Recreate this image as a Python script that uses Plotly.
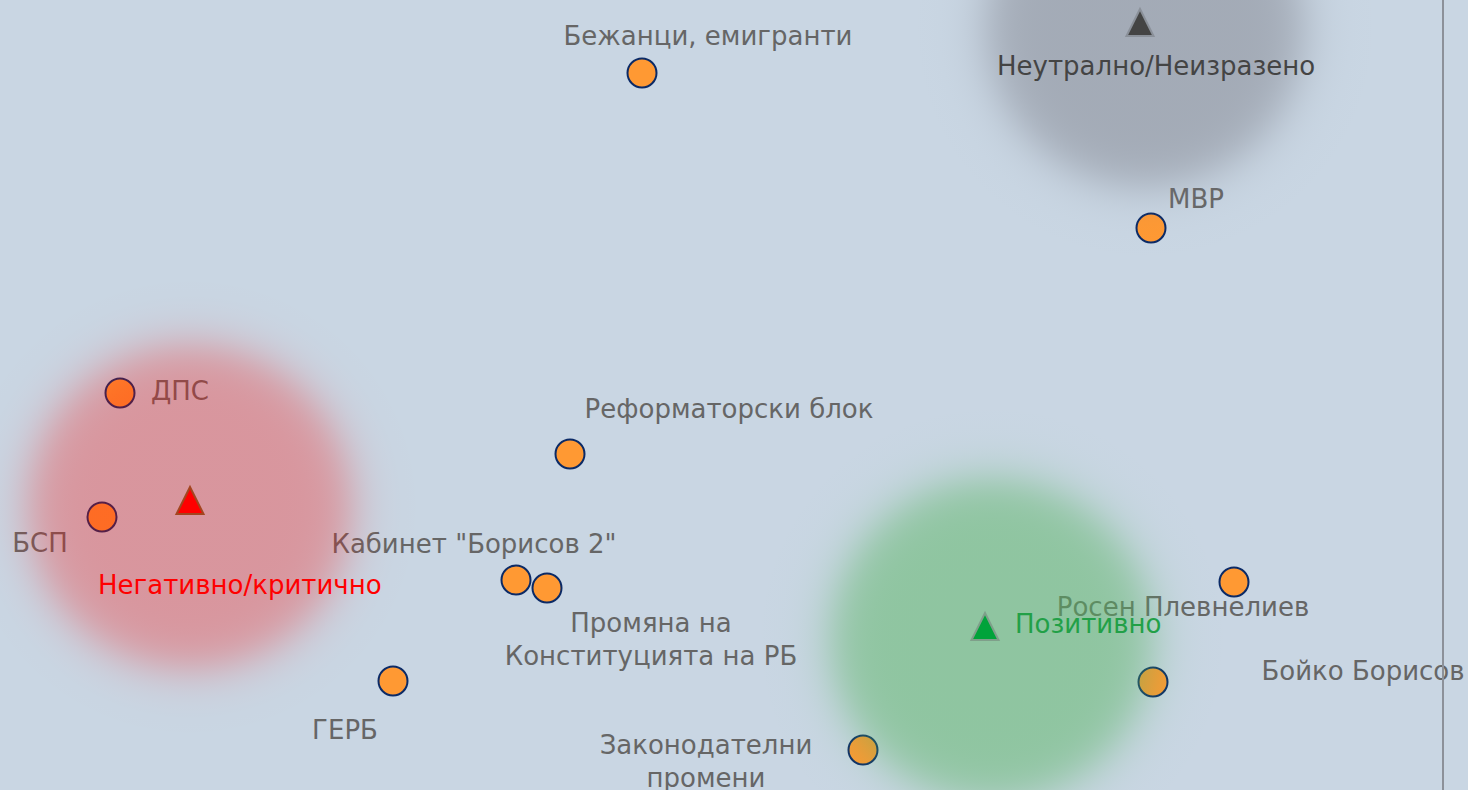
import base64
import numpy as np
import plotly.graph_objects as go

# ---------------- data ----------------
topics = ["Бежанци, емигранти", "МВР", "ДПС", "Реформаторски блок", "БСП",
          "Кабинет \"Борисов 2\"", "Промяна на<br>Конституцията на РБ",
          "Росен Плевнелиев", "Бойко Борисов", "ГЕРБ", "Законодателни<br>промени"]
topic_x = [642, 1151, 120, 570, 102, 516, 547, 1234, 1153, 393, 863]
topic_y = [73, 228, 393, 454, 517, 580, 588, 582, 682, 681, 750]
label_x = [708, 1196, 180, 729, 40, 474, 651, 1183, 1363, 345, 706]
label_y = [38, 201, 393, 411, 545, 546, 642, 609, 673, 732, 764]

tones = ["Негативно/критично", "Неутрално/Неизразено", "Позитивно"]
tone_x = [190, 1140, 985]
tone_y = [501, 23, 627]
tone_label_x = [240, 1156, 1088]
tone_label_y = [585, 66, 624]
tone_fill = ["#ff0000", "#444444", "#00a33a"]
tone_edge = ["#a3451f", "#8a9099", "#7f9f8a"]
tone_text = ["#ff0000", "#444444", "#22a047"]

blob_x = [190, 1145, 992]
blob_y = [507, 28, 640]
blob_rgb = [(251, 7, 3), (117, 118, 128), (85, 180, 94)]
blob_alpha = [0.31, 0.45, 0.50]
blob_radius = [161, 158, 160]

divider_x = 1443

BG = "#c9d6e3"
FONT = "Verdana, DejaVu Sans, sans-serif"
FS = 26


def blob_source(rgb, A, r0, soft=13.0, pad=80):
    """SVG radial-gradient disc with a soft (blurred) rim, as data URI."""
    R = r0 + pad
    stops = []
    for t in np.linspace(0, 1, 61):
        r = t * R
        al = A / (1 + np.exp((r - r0) / soft))
        stops.append(f'<stop offset="{t*100:.2f}%" stop-color="rgb({rgb[0]},{rgb[1]},{rgb[2]})" '
                     f'stop-opacity="{al:.4f}"/>')
    svg = (f'<svg xmlns="http://www.w3.org/2000/svg" width="{2*R}" height="{2*R}" '
           f'viewBox="0 0 {2*R} {2*R}"><defs><radialGradient id="g" cx="50%" cy="50%" r="50%">'
           + "".join(stops) +
           f'</radialGradient></defs><rect x="0" y="0" width="{2*R}" height="{2*R}" fill="url(#g)"/></svg>')
    return "data:image/svg+xml;base64," + base64.b64encode(svg.encode()).decode(), 2 * R


fig = go.Figure()

# topic circles
fig.add_trace(go.Scatter(
    x=topic_x, y=topic_y, mode="markers",
    marker=dict(size=29, color="#ff9933", line=dict(color="#0b2a66", width=2)),
    hoverinfo="skip"))

# topic labels
fig.add_trace(go.Scatter(
    x=label_x, y=label_y, mode="text", text=topics,
    textposition="middle center",
    textfont=dict(family=FONT, size=FS, color="#666666"),
    hoverinfo="skip"))

images = []
for cx, cy, rgb, A, r in zip(blob_x, blob_y, blob_rgb, blob_alpha, blob_radius):
    src, size = blob_source(rgb, A, r)
    images.append(dict(source=src, xref="x", yref="y", x=cx, y=cy,
                       sizex=size, sizey=size, xanchor="center", yanchor="middle",
                       sizing="stretch", layer="above", opacity=1))

shapes = []
for x, y, f, e in zip(tone_x, tone_y, tone_fill, tone_edge):
    shapes.append(dict(
        type="path", layer="above", xref="x", yref="y",
        xsizemode="pixel", ysizemode="pixel", xanchor=x, yanchor=y,
        path="M -13.5 -13 L 13.5 -13 L 0 14 Z",
        fillcolor=f, line=dict(color=e, width=2)))
shapes.append(dict(type="line", layer="above", xref="x", yref="paper",
                   x0=divider_x, x1=divider_x, y0=0, y1=1,
                   line=dict(color="#8c9199", width=2)))

annotations = []
for t, x, y, c in zip(tones, tone_label_x, tone_label_y, tone_text):
    annotations.append(dict(x=x, y=y, xref="x", yref="y", text=t, showarrow=False,
                            xanchor="center", yanchor="middle",
                            font=dict(family=FONT, size=FS, color=c)))

fig.update_layout(
    width=1468, height=790,
    margin=dict(l=0, r=0, t=0, b=0, pad=0),
    paper_bgcolor=BG, plot_bgcolor=BG,
    showlegend=False,
    xaxis=dict(range=[0, 1468], visible=False, fixedrange=True),
    yaxis=dict(range=[790, 0], visible=False, fixedrange=True),
    shapes=shapes, annotations=annotations, images=images,
)

fig.write_html("out.html", config={"displayModeBar": False},
               post_script="document.body.style.margin='0';document.body.style.background='" + BG + "';")
